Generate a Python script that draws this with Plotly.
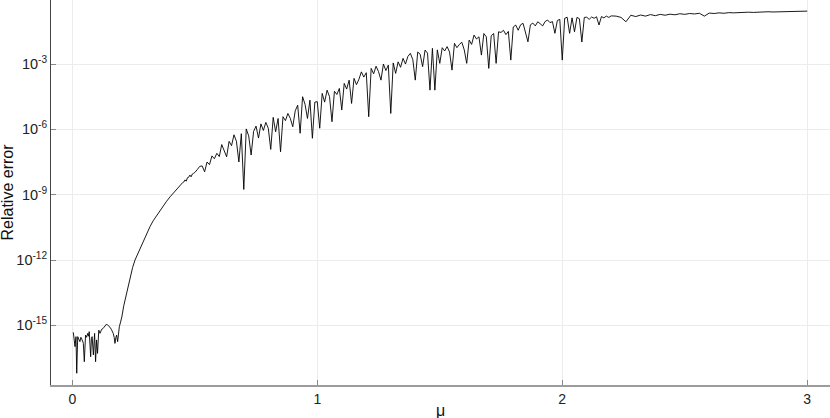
import plotly.graph_objects as go

# ---- data (relative error stored as log10 values) ----
mu_floor = [0.004, 0.008, 0.011, 0.015, 0.018, 0.022, 0.026, 0.031, 0.035, 0.038,
            0.042, 0.045, 0.049, 0.054, 0.058, 0.063, 0.066, 0.069, 0.072, 0.075,
            0.078, 0.081, 0.086, 0.091, 0.095, 0.099, 0.103, 0.108, 0.113, 0.117,
            0.120, 0.125, 0.129, 0.134, 0.140, 0.147, 0.154, 0.160, 0.167, 0.171,
            0.174, 0.178, 0.181, 0.185, 0.188, 0.192, 0.197, 0.202]
log_err_floor = [-15.32, -15.70, -15.98, -15.52, -17.20, -15.52, -15.62, -15.75, -15.55, -15.60,
                 -15.72, -15.83, -16.67, -15.45, -15.55, -15.37, -15.50, -15.29, -15.80, -16.44,
                 -15.60, -15.52, -16.36, -15.37, -16.67, -15.67, -16.29, -15.22, -15.37, -15.25,
                 -15.18, -15.15, -15.09, -15.05, -14.94, -15.02, -15.09, -15.20, -15.37, -15.55,
                 -15.83, -15.55, -15.45, -15.75, -15.40, -15.06, -14.85, -14.62]

mu_rise = [0.210, 0.215, 0.225, 0.236, 0.246, 0.256, 0.266, 0.276, 0.287, 0.297,
           0.307, 0.317, 0.330, 0.345, 0.358, 0.370, 0.385, 0.399, 0.410, 0.420,
           0.430, 0.440, 0.450, 0.455, 0.460, 0.465, 0.470, 0.475, 0.480, 0.485, 0.490, 0.495]
log_err_rise = [-14.10, -13.84, -13.30, -12.77, -12.35, -12.00, -11.75, -11.54, -11.22, -10.93,
                -10.70, -10.47, -10.20, -9.95, -9.71, -9.52, -9.30, -9.10, -8.95, -8.82,
                -8.70, -8.58, -8.45, -8.42, -8.32, -8.38, -8.22, -8.20, -8.10, -8.18, -8.05, -8.02]

# mu = 0.50, 0.51, ..., 2.20
log_err_noisy = [
    -7.98, -7.85, -7.70, -7.68, -7.95, -7.50, -7.62, -7.22, -7.35, -7.10,
    -7.25, -6.70, -6.95, -7.26, -6.55, -6.75, -6.25, -6.55, -7.50, -6.20,
    -8.76, -5.98, -6.30, -7.18, -6.10, -5.85, -6.40, -5.75, -6.05, -5.68,
    -5.95, -6.92, -5.45, -6.11, -5.50, -7.03, -5.42, -5.60, -5.27, -5.50,
    -5.88, -5.15, -4.89, -6.18, -4.50, -4.85, -5.50, -4.66, -6.41, -4.75,
    -4.73, -5.95, -4.35, -4.75, -4.20, -4.50, -5.65, -4.25, -4.40, -4.12,
    -5.11, -3.89, -4.15, -3.74, -4.81, -3.66, -3.95, -3.70, -3.36, -3.60,
    -3.40, -5.42, -3.20, -3.45, -3.10, -3.35, -3.74, -3.00, -3.30, -3.05,
    -5.27, -2.95, -3.43, -2.90, -3.15, -2.74, -3.00, -2.65, -2.51, -2.80,
    -3.74, -2.45, -2.55, -3.12, -2.36, -2.50, -4.20, -2.28, -4.20, -2.35,
    -2.97, -2.25, -2.40, -2.20, -2.45, -3.28, -2.05, -2.25, -2.10, -2.00,
    -2.35, -2.97, -1.90, -2.10, -1.67, -1.85, -1.75, -2.59, -1.60, -1.75,
    -3.20, -1.70, -1.60, -2.97, -1.52, -1.55, -1.45, -1.65, -1.50, -2.82,
    -1.30, -1.21, -1.45, -1.20, -1.13, -1.55, -1.98, -1.20, -1.12, -1.25,
    -1.06, -1.15, -1.25, -1.05, -0.98, -1.10, -1.05, -1.59, -1.00, -0.95,
    -2.82, -0.90, -0.85, -1.59, -0.88, -1.52, -0.86, -0.92, -1.99, -0.86,
    -0.85, -0.95, -0.84, -0.90, -0.83, -1.21, -0.82, -0.88, -0.80, -0.86,
    -0.79]
mu_noisy = [round(0.50 + 0.01 * i, 2) for i in range(len(log_err_noisy))]

# mu = 2.22, 2.24, ..., 3.00
log_err_tail = [-0.80, -0.86, -1.06, -0.76, -0.82, -0.75, -0.80, -0.73, -0.78, -0.72,
                -0.76, -0.71, -0.74, -0.69, -0.72, -0.68, -0.70, -0.67, -0.80, -0.66,
                -0.68, -0.65, -0.67, -0.64, -0.65, -0.63, -0.64, -0.62, -0.63, -0.61,
                -0.62, -0.60, -0.61, -0.60, -0.59, -0.60, -0.58, -0.59, -0.58, -0.57]
mu_tail = [round(2.22 + 0.02 * i, 2) for i in range(len(log_err_tail))]

y_tick_exponents = [-15, -12, -9, -6, -3]
x_tick_values = [0, 1, 2, 3]

mu = mu_floor + mu_rise + mu_noisy + mu_tail
rel_err = [10 ** v for v in (log_err_floor + log_err_rise + log_err_noisy + log_err_tail)]

FONT = "Liberation Sans, Arial, sans-serif"

fig = go.Figure()
fig.add_trace(go.Scatter(x=mu, y=rel_err, mode="lines",
                         line=dict(color="black", width=0.9),
                         showlegend=False, hoverinfo="skip"))

fig.update_layout(
    width=830, height=418,
    margin=dict(l=51, r=0, t=0, b=33),
    paper_bgcolor="white", plot_bgcolor="white",
    font=dict(family=FONT, size=14, color="#222222"),
    showlegend=False,
)
fig.update_xaxes(
    range=[-0.087, 3.093],
    tickvals=x_tick_values, ticktext=[str(v) for v in x_tick_values],
    ticks="inside", ticklen=5, tickcolor="#888888",
    showgrid=True, gridcolor="#ececec", gridwidth=1,
    zeroline=False,
    showline=True, linecolor="#9c9c9c", linewidth=2,
    tickfont=dict(family=FONT, size=14, color="#222222"),
    automargin=False,
)
fig.update_yaxes(
    type="log",
    range=[-17.74, -0.06],
    tickvals=[10 ** e for e in y_tick_exponents],
    ticktext=["10<sup>%d</sup>" % e for e in y_tick_exponents],
    ticks="inside", ticklen=5, tickcolor="#888888",
    showgrid=True, gridcolor="#ececec", gridwidth=1,
    zeroline=False,
    showline=True, linecolor="#444444", linewidth=1,
    tickfont=dict(family=FONT, size=14.5, color="#222222"),
    automargin=False,
)
fig.add_annotation(text="Relative error", xref="paper", yref="paper",
                   x=0, y=0.5, xanchor="center", yanchor="middle",
                   xshift=-44, textangle=-90, showarrow=False,
                   font=dict(family=FONT, size=16, color="#111111"))
fig.add_annotation(text="μ", xref="paper", yref="paper",
                   x=0.5, y=0, xanchor="center", yanchor="middle",
                   yshift=-25, showarrow=False,
                   font=dict(family=FONT, size=16, color="#111111"))

fig.write_html("out.html", config={"displayModeBar": False},
               post_script="document.body.style.margin='0';")
